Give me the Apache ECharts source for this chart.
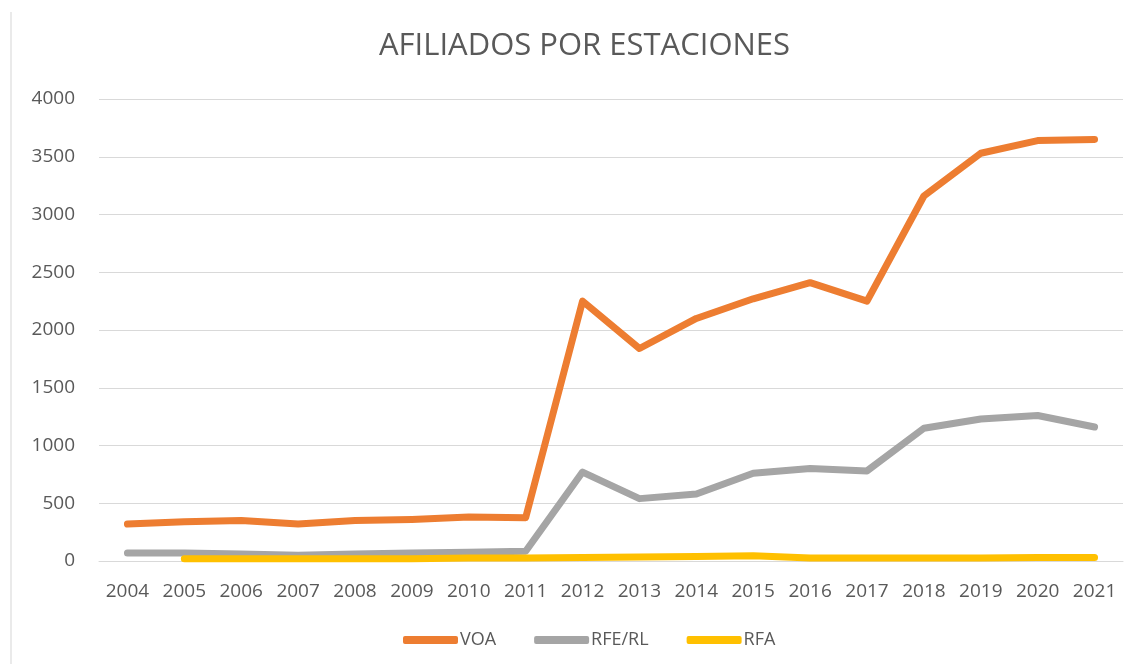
<!DOCTYPE html>
<html>
<head>
<meta charset="utf-8">
<script src="https://cdn.jsdelivr.net/npm/echarts@6/dist/echarts.min.js"></script>
<style>
html,body{margin:0;padding:0;background:#fff;}
#c{width:1137px;height:671px;}
</style>
</head>
<body>
<div id="c"></div>
<script>
var years = ['2004','2005','2006','2007','2008','2009','2010','2011','2012','2013','2014','2015','2016','2017','2018','2019','2020','2021'];
var voa = [320,340,350,320,350,360,380,375,2250,1840,2100,2270,2410,2250,3160,3530,3640,3650];
var rferl = [70,70,60,50,60,70,75,85,770,540,580,760,800,780,1150,1230,1260,1160];
var rfa = [null,20,20,20,20,20,25,25,30,35,40,45,25,25,25,25,30,30];
var yTicks = [0,500,1000,1500,2000,2500,3000,3500,4000];

var chart = echarts.init(document.getElementById('c'));
var font = '"Open Sans", Calibri, sans-serif';
function mk(name, data, color){
  return {name:name, type:'line', data:data, symbol:'none', smooth:false,
    lineStyle:{width:7, color:color, cap:'round', join:'round'}, itemStyle:{color:color}};
}
chart.setOption({
  animation:false,
  graphic:[{type:'line', shape:{x1:11, y1:12, x2:11, y2:664}, style:{stroke:'#e3e3e3', lineWidth:1.5}, silent:true}],
  title:{text:'AFILIADOS POR ESTACIONES', left:374, top:26,
    textStyle:{fontFamily:font, fontSize:31, fontWeight:'normal', color:'#595959'}},
  grid:{left:99, right:14, top:99, bottom:110},
  xAxis:{type:'category', data:years, boundaryGap:true,
    axisLine:{show:true, lineStyle:{color:'#d9d9d9'}}, axisTick:{show:false},
    axisLabel:{fontFamily:font, fontSize:19, color:'#595959', margin:21}},
  yAxis:{type:'value', min:yTicks[0], max:yTicks[yTicks.length-1], interval:500,
    axisLine:{show:false}, axisTick:{show:false},
    splitLine:{lineStyle:{color:'#d9d9d9', width:1}},
    axisLabel:{fontFamily:font, fontSize:19, color:'#595959', margin:24,
      formatter:function(v){return String(v);}}},
  legend:{bottom:17, left:398, itemWidth:55, itemHeight:8, itemGap:38, icon:'roundRect',
    textStyle:{fontFamily:font, fontSize:18, color:'#595959', padding:[0,0,0,-3]},
    data:['VOA','RFE/RL','RFA']},
  series:[mk('VOA', voa, '#ED7D31'), mk('RFE/RL', rferl, '#A5A5A5'), mk('RFA', rfa, '#FFC000')]
});
</script>
</body>
</html>
